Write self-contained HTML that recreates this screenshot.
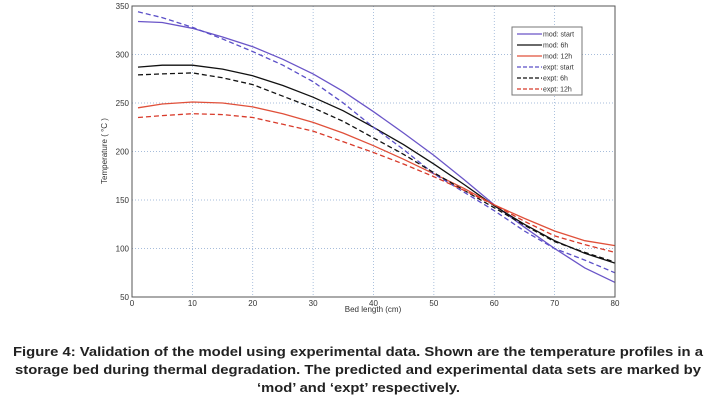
<!DOCTYPE html>
<html><head><meta charset="utf-8"><style>
html,body{margin:0;padding:0;background:#fff;}
svg{display:block;font-family:"Liberation Sans",sans-serif;}
</style></head><body>
<svg id="chart" width="710" height="408" viewBox="0 0 710 408" xmlns="http://www.w3.org/2000/svg">
<rect x="132" y="6" width="483" height="291" fill="#fff" stroke="none"/>
<g id="grid"></g>
<g id="series"></g>
<rect x="132" y="6" width="483" height="291" fill="none" stroke="#555" stroke-width="1"/>
<g id="ticks" font-size="8" fill="#333"></g>
<text x="373" y="312" font-size="8" fill="#333" text-anchor="middle">Bed length (cm)</text>
<text transform="translate(107,151) rotate(-90)" font-size="8" fill="#333" text-anchor="middle">Temperature ( °C )</text>
<g>
<rect x="512" y="27" width="70" height="68" fill="#fff" stroke="#777" stroke-width="1"/>
<g id="legend-items"></g>
</g>
<g font-size="12.5" font-weight="bold" fill="#222">
<text x="13" y="356" textLength="690" lengthAdjust="spacingAndGlyphs">Figure 4: Validation of the model using experimental data. Shown are the temperature profiles in a</text>
<text x="15" y="374" textLength="686" lengthAdjust="spacingAndGlyphs">storage bed during thermal degradation. The predicted and experimental data sets are marked by</text>
<text x="257" y="392" textLength="203" lengthAdjust="spacingAndGlyphs">‘mod’ and ‘expt’ respectively.</text>
</g>
</svg>
<script>
const xs = [1,5,10,15,20,25,30,35,40,45,50,55,60,65,70,75,80];
const modStart = [334,333,327,318,308,295,280,262,241,219,196,171,145,122,100,80,65];
const exptStart = [344,338,328,316,303,289,272,250,225,202,177,158,139,118,100,88,75];
const mod6h = [287,289,289,285,278,268,256,242,225,207,187,166,144,125,108,95,85];
const expt6h = [279,280,281,276,269,257,245,231,214,197,178,160,142,124,107,96,86];
const mod12h = [245,249,251,250,246,239,230,219,206,192,177,162,145,131,118,108,103];
const expt12h = [235,237,239,238,235,228,221,210,199,187,174,160,145,128,113,104,96];
const xTicks = [0,10,20,30,40,50,60,70,80];
const yTicks = [50,100,150,200,250,300,350];
const seriesNames = ["mod: start","mod: 6h","mod: 12h","expt: start","expt: 6h","expt: 12h"];

const L=132,R=615,T=6,B=297;
const sx=v=>L+(v-0)/(80-0)*(R-L);
const sy=v=>B-(v-50)/(350-50)*(B-T);
const NS="http://www.w3.org/2000/svg";
function mk(tag,attrs,parent){const e=document.createElementNS(NS,tag);for(const k in attrs)e.setAttribute(k,attrs[k]);parent.appendChild(e);return e;}
const grid=document.getElementById('grid'),ticks=document.getElementById('ticks'),ser=document.getElementById('series'),leg=document.getElementById('legend-items');
xTicks.forEach(v=>{
  const g=mk('line',{x1:sx(v),x2:sx(v),y1:T,y2:B,stroke:'#8aa8d0','stroke-width':0.7,'stroke-dasharray':'1,2'},grid);
  
  
  const t=mk('text',{x:sx(v),y:B+9,'text-anchor':'middle'},ticks);t.textContent=v;
  
  
});
yTicks.forEach(v=>{
  const g=mk('line',{x1:L,x2:R,y1:sy(v),y2:sy(v),stroke:'#8aa8d0','stroke-width':0.7,'stroke-dasharray':'1,2'},grid);
  
  
  const t=mk('text',{x:L-3,y:sy(v)+3,'text-anchor':'end'},ticks);t.textContent=v;
  
  
});
const data=[modStart,mod6h,mod12h,exptStart,expt6h,expt12h];
const colors=['#6a55c8','#111','#e0503a','#5a4fc8','#111','#d83a2a'];
const dashed=[false,false,false,true,true,true];
const names=['line-mod-start','line-mod-6h','line-mod-12h','line-expt-start','line-expt-6h','line-expt-12h'];
data.forEach((arr,i)=>{
  const d=arr.map((v,j)=>(j?'L':'M')+sx(xs[j]).toFixed(1)+','+sy(v).toFixed(1)).join(' ');
  const p=mk('path',{d:d,fill:'none',stroke:colors[i],'stroke-width':1.3,'stroke-dasharray':dashed[i]?'5,3':'none'},ser);
  
  
  const y=34+i*11;
  const l=mk('line',{x1:517,x2:542,y1:y,y2:y,stroke:colors[i],'stroke-width':1.3,'stroke-dasharray':dashed[i]?'4,2':'none'},leg);
  
  
  const t=mk('text',{x:543,y:y+2.5,'font-size':7,fill:'#333'},leg);t.textContent=seriesNames[i];
  
  
});
</script>
</body></html>
